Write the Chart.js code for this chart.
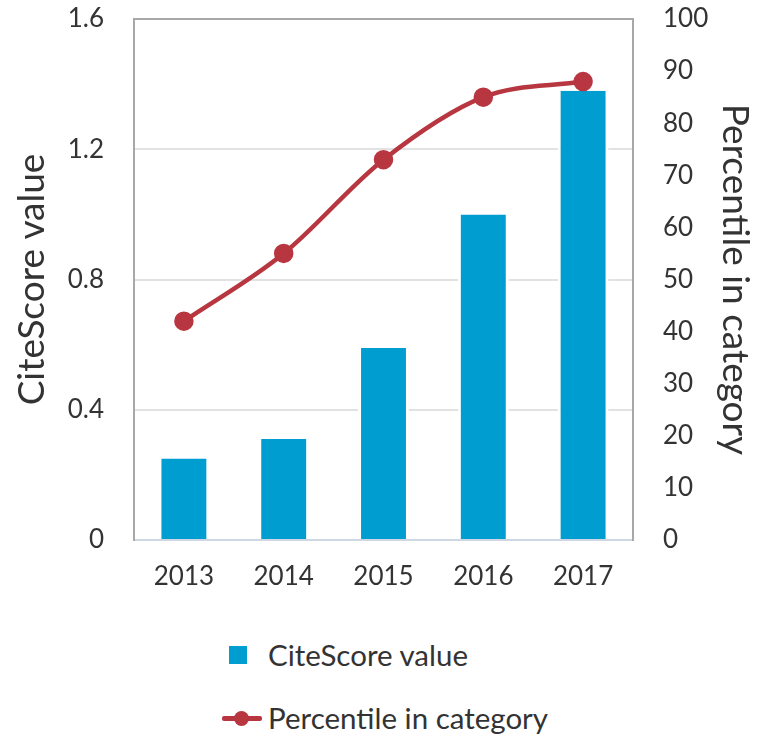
<!DOCTYPE html>
<html>
<head>
<meta charset="utf-8">
<script src="https://cdn.jsdelivr.net/npm/chart.js@4"></script>
<style>
  html, body { margin: 0; padding: 0; background: #fff; }
  #wrap { position: relative; width: 765px; height: 735px; }
  #chart-box { position: absolute; left: 0; top: 0; width: 765px; height: 610px; }
  .legend-item { position: absolute; left: 0; font-family: Lato, sans-serif; font-size: 29.5px; line-height: 36px; color: #333; white-space: nowrap; }
  .swatch { position: absolute; }
</style>
</head>
<body>
<div id="wrap">
  <div id="chart-box"><canvas id="chart"></canvas></div>
  <div id="legend"></div>
</div>
<script>
(() => {
  'use strict';

  const years = ['2013', '2014', '2015', '2016', '2017'];
  const citeScore = [0.25, 0.31, 0.59, 1.00, 1.38];
  const percentile = [42, 55, 73, 85, 88];
  const leftTicks = [0, 0.4, 0.8, 1.2, 1.6];

  const BLUE = '#009dd0';
  const RED = '#b73640';
  const FONT = 'Lato, sans-serif';

  Chart.defaults.font.family = FONT;
  Chart.defaults.color = '#333';

  // pin the plot area: left 134, right 633, top 19, bottom 540
  const fixY = width => scale => {
    scale.width = width;
    scale.paddingTop = 19;
    scale.paddingBottom = 0;
  };

  new Chart(document.getElementById('chart'), {
    data: {
      labels: years,
      datasets: [
        {
          type: 'line',
          label: 'Percentile in category',
          data: percentile,
          yAxisID: 'y1',
          borderColor: RED,
          backgroundColor: RED,
          borderWidth: 4.5,
          pointRadius: 7.5,
          pointHoverRadius: 7.5,
          cubicInterpolationMode: 'monotone',
          order: 0
        },
        {
          type: 'bar',
          label: 'CiteScore value',
          data: citeScore,
          yAxisID: 'y',
          backgroundColor: BLUE,
          // white side edges cut the gridlines around each bar
          borderColor: '#fff',
          borderWidth: { left: 3, right: 3, top: 0, bottom: 0 },
          borderSkipped: false,
          barPercentage: 0.51,
          categoryPercentage: 1,
          order: 1
        }
      ]
    },
    options: {
      responsive: true,
      maintainAspectRatio: false,
      animation: false,
      layout: { padding: { left: 10, right: 8, top: 0, bottom: 0 } },
      plugins: {
        legend: { display: false },
        tooltip: { enabled: false }
      },
      scales: {
        x: {
          grid: { display: false, drawTicks: false },
          border: { display: false },
          ticks: { font: { size: 26 }, padding: 21, color: '#333' },
          afterFit: scale => { scale.height = 70; }
        },
        y: {
          position: 'left',
          min: 0,
          max: 1.6,
          afterBuildTicks: axis => { axis.ticks = leftTicks.map(v => ({ value: v })); },
          afterFit: fixY(124),
          grid: {
            drawTicks: false,
            lineWidth: 2,
            color: ctx => ctx.tick.value === 1.6 ? '#a8a8a8' : (ctx.tick.value === 0 ? '#cfd6e4' : '#e2e2e2')
          },
          border: { display: true, color: '#a8a8a8', width: 2 },
          ticks: { font: { size: 26 }, padding: 30, color: '#333', callback: v => v === 0 ? '0' : v.toFixed(1) },
          title: { display: true, text: 'CiteScore value', font: { size: 37 }, color: '#333', padding: 0 }
        },
        y1: {
          position: 'right',
          min: 0,
          max: 100,
          afterFit: fixY(124),
          grid: { display: false, drawTicks: false },
          border: { display: true, color: '#a8a8a8', width: 2 },
          ticks: { stepSize: 10, font: { size: 26 }, padding: 30, color: '#333' },
          title: { display: true, text: 'Percentile in category', font: { size: 37 }, color: '#333', padding: 0 }
        }
      }
    }
  });

  // legend below the chart, stacked as in the source
  const legend = document.getElementById('legend');
  legend.innerHTML = `
    <div class="legend-item" style="top:637px;">
      <span class="swatch" style="left:229px;top:9px;width:18px;height:18px;background:${BLUE};"></span>
      <span style="position:absolute;left:268px;top:0;">CiteScore value</span>
    </div>
    <div class="legend-item" style="top:700px;">
      <span class="swatch" style="left:222px;top:16px;width:40px;height:5px;background:${RED};border-radius:2px;"></span>
      <span class="swatch" style="left:234px;top:11px;width:15px;height:15px;background:${RED};border-radius:50%;"></span>
      <span style="position:absolute;left:268px;top:0;">Percentile in category</span>
    </div>`;
})();
</script>
</body>
</html>
